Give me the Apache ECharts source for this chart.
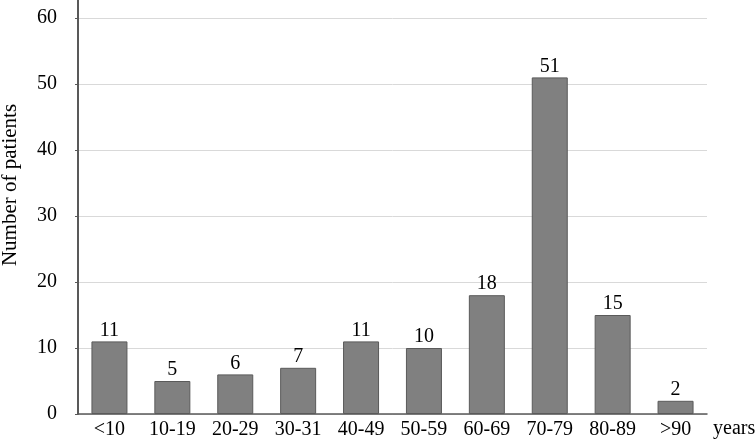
<!DOCTYPE html>
<html>
<head>
<meta charset="utf-8">
<script src="https://cdn.jsdelivr.net/npm/echarts@6/dist/echarts.min.js"></script>
<style>
  html, body { margin: 0; padding: 0; background: #fff; }
  #main { width: 755px; height: 441px; }
</style>
</head>
<body>
<div id="main"></div>
<script>
// age groups and counts
var ageGroups = ['<10', '10-19', '20-29', '30-31', '40-49', '50-59', '60-69', '70-79', '80-89', '>90'];
var patientCounts = [11, 5, 6, 7, 11, 10, 18, 51, 15, 2];

var font = '"Liberation Serif", "Times New Roman", serif';
var gridLeft = 78;

var chart = echarts.init(document.getElementById('main'));

var option = {
    animation: false,
    grid: { left: gridLeft, right: 48, top: 18, bottom: 27, outerBoundsMode: 'none' },
    xAxis: {
        type: 'category',
        data: ageGroups,
        name: 'years',
        nameLocation: 'end',
        nameGap: 6,
        nameTextStyle: { fontFamily: font, fontSize: 20, color: '#000', verticalAlign: 'top', align: 'left', padding: [5, 0, 0, 0] },
        axisLine: { lineStyle: { color: '#595959', width: 1.5 } },
        axisTick: { show: false },
        axisLabel: { fontFamily: font, fontSize: 20, color: '#000', margin: 6 }
    },
    yAxis: {
        type: 'value',
        min: 0,
        max: 60,
        interval: 10,
        name: 'Number of patients',
        nameLocation: 'middle',
        nameGap: 57,
        // label sits above the middle of the axis in the original
        nameTextStyle: { fontFamily: font, fontSize: 21, color: '#000', padding: [0, 0, 0, 62] },
        axisLine: { show: true, lineStyle: { color: '#595959', width: 2 } },
        axisTick: { show: true, length: 3, lineStyle: { color: '#595959' } },
        axisLabel: { fontFamily: font, fontSize: 20, color: '#000', margin: 21 },
        splitLine: { lineStyle: { color: '#d9d9d9', width: 1 } }
    },
    series: [{
        type: 'bar',
        data: patientCounts,
        barWidth: 36,
        itemStyle: { color: '#808080', borderColor: '#5a5a5a', borderWidth: 1 },
        label: { show: true, position: 'top', distance: 1, fontFamily: font, fontSize: 20, color: '#000' }
    }]
};

chart.setOption(option);

// y axis line runs on up to the top edge in the original
var axisTopY = chart.convertToPixel({ yAxisIndex: 0 }, 60);
chart.setOption({
    graphic: [{
        type: 'line',
        shape: { x1: gridLeft, y1: 0, x2: gridLeft, y2: axisTopY },
        style: { stroke: '#595959', lineWidth: 2 },
        silent: true
    }]
});
</script>
</body>
</html>
